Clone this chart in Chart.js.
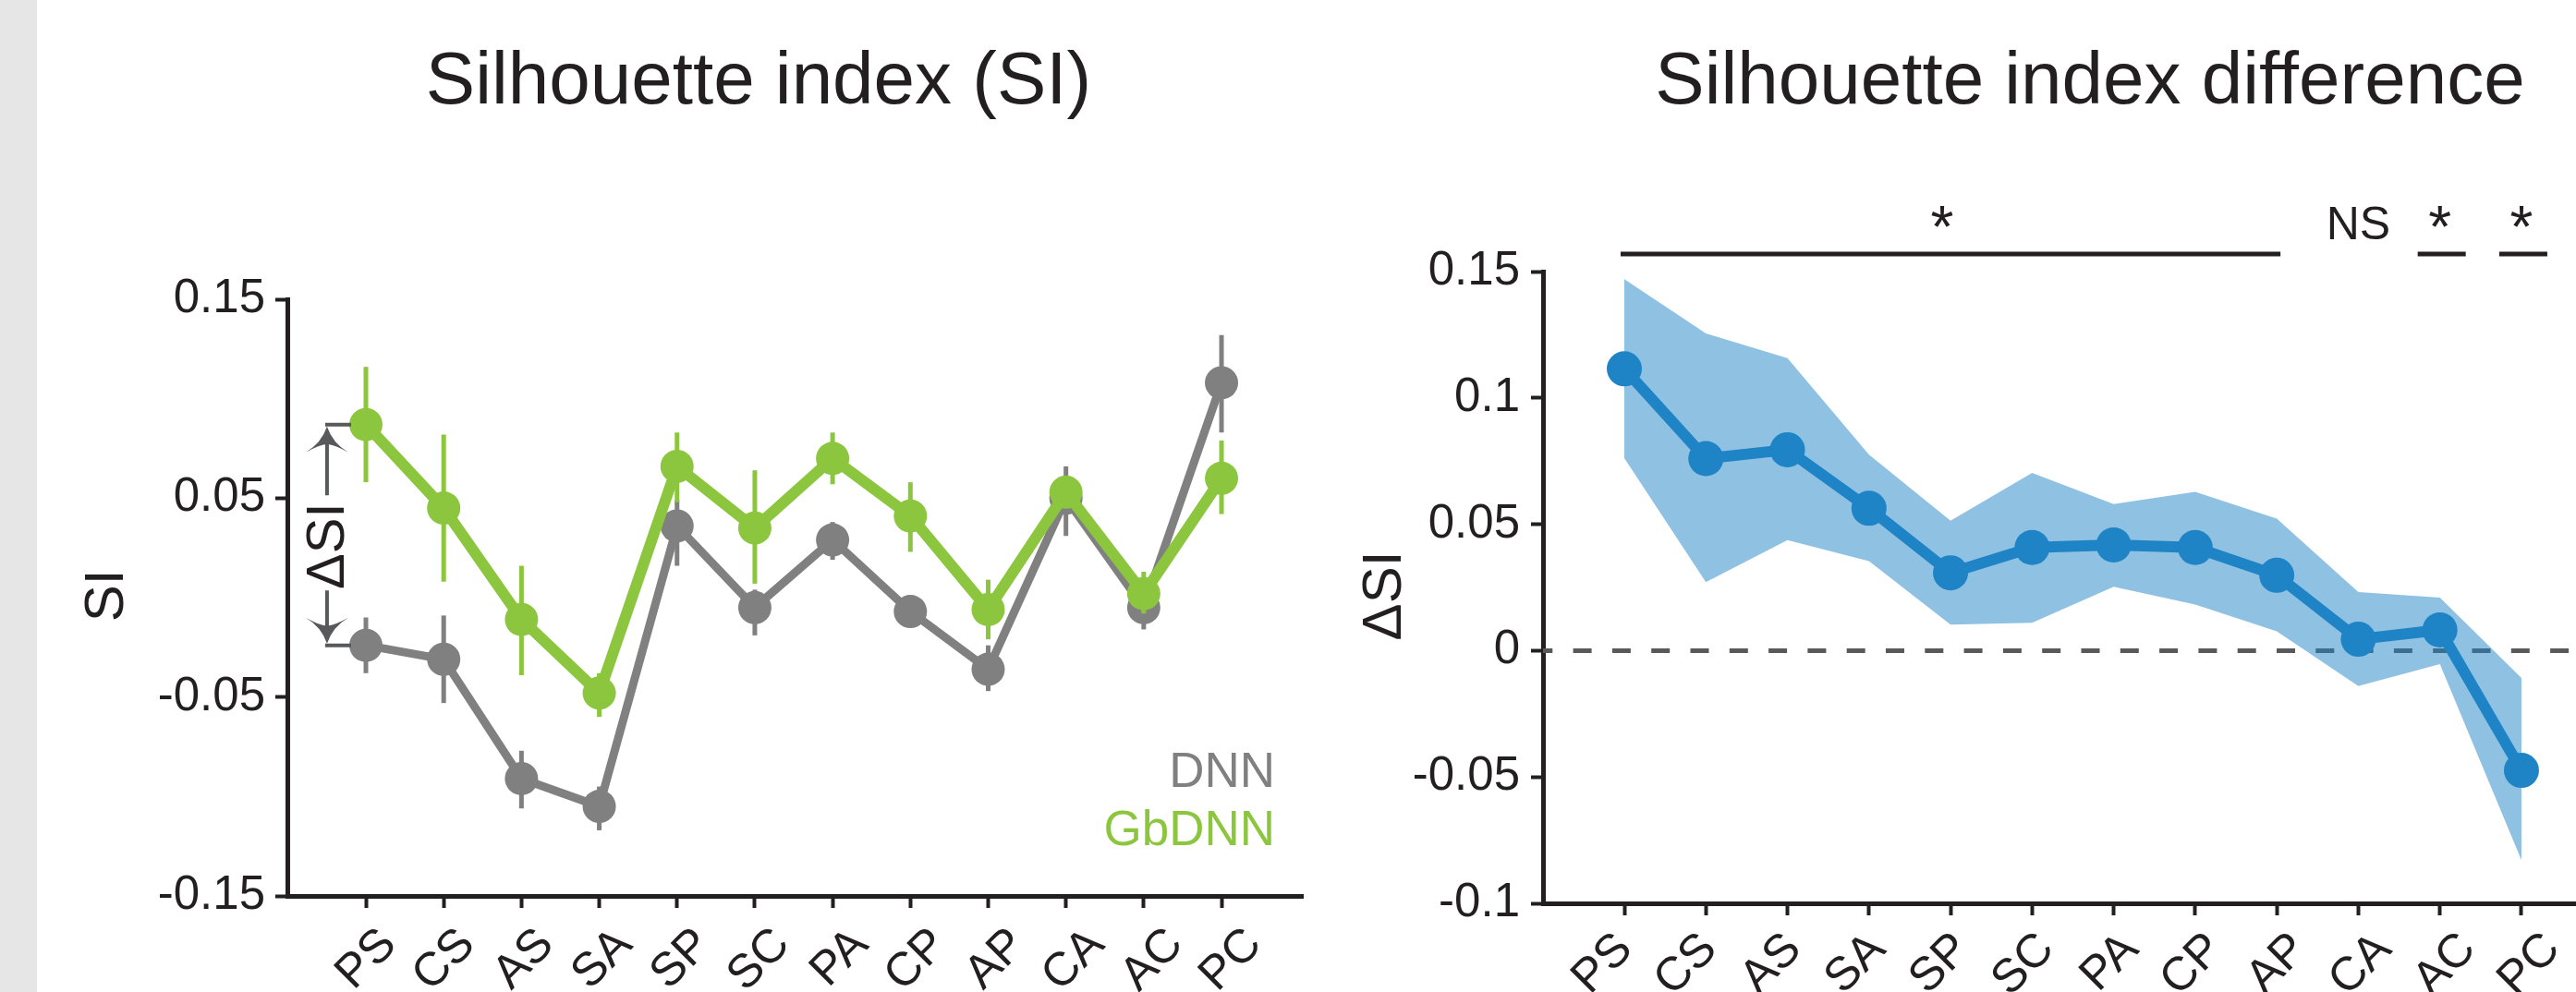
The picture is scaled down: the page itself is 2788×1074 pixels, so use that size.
<!DOCTYPE html>
<html><head><meta charset="utf-8">
<script src="https://cdn.jsdelivr.net/npm/chart.js@4.4.0/dist/chart.umd.min.js"></script>
<style>
html,body{margin:0;padding:0;background:#fff;width:2788px;height:1074px;overflow:hidden;}
#strip{position:absolute;left:0;top:0;width:40px;height:1074px;background:#e6e6e6;}
#c1{position:absolute;left:0;top:0;}
#c2{position:absolute;left:1420px;top:0;}
</style></head><body>
<div id="strip"></div>
<canvas id="c1" width="1420" height="1074"></canvas>
<canvas id="c2" width="1368" height="1074"></canvas>
<script>
// ---------- data ----------
const categories = ['PS','CS','AS','SA','SP','SC','PA','CP','AP','CA','AC','PC'];

const gbdnnSI   = [0.087, 0.045, -0.011, -0.048, 0.066, 0.035, 0.070, 0.041, -0.006, 0.053, 0.002, 0.060];
const gbdnnLow  = [0.058, 0.008, -0.039, -0.060, 0.048, 0.007, 0.057, 0.023, -0.021, 0.046, -0.008, 0.042];
const gbdnnHigh = [0.116, 0.082, 0.016, -0.038, 0.083, 0.064, 0.083, 0.058, 0.009, 0.060, 0.013, 0.079];

const dnnSI   = [-0.024, -0.031, -0.091, -0.105, 0.036, -0.005, 0.029, -0.007, -0.036, 0.050, -0.005, 0.108];
const dnnLow  = [-0.038, -0.053, -0.106, -0.117, 0.016, -0.019, 0.019, -0.012, -0.047, 0.031, -0.016, 0.083];
const dnnHigh = [-0.010, -0.009, -0.077, -0.095, 0.049, 0.004, 0.038, -0.002, -0.024, 0.066, 0.004, 0.132];

const deltaSI   = [0.1115, 0.076, 0.0795, 0.0563, 0.0308, 0.0408, 0.0418, 0.0408, 0.0298, 0.0045, 0.0082, -0.0474];
const deltaHigh = [0.147, 0.1255, 0.1157, 0.0775, 0.0514, 0.0703, 0.058, 0.0628, 0.0522, 0.0232, 0.021, -0.0108];
const deltaLow  = [0.0762, 0.0271, 0.0437, 0.0354, 0.0103, 0.011, 0.0253, 0.0182, 0.0076, -0.014, -0.0053, -0.0829];

const leftYTicks = [-0.15, -0.05, 0.05, 0.15];
const leftYTickLabels = ['-0.15', '-0.05', '0.05', '0.15'];
const rightYTicks = [-0.1, -0.05, 0, 0.05, 0.1, 0.15];
const rightYTickLabels = ['-0.1', '-0.05', '0', '0.05', '0.1', '0.15'];

const leftTitle = 'Silhouette index (SI)';
const rightTitle = 'Silhouette index difference';
const leftYTitle = 'SI';
const rightYTitle = '\u0394SI';
const legendLabels = ['DNN', 'GbDNN'];
// significance groups: category index range and label
const sigFrom  = [0, 9, 10, 11];
const sigTo    = [8, 9, 10, 11];
const sigLabel = ['*', 'NS', '*', '*'];
const sigLine  = [true, false, true, true];

// ---------- styles ----------
const FONT = "'Liberation Sans', Arial, Helvetica, sans-serif";
const INK = '#231F20';
const GREEN = '#8CC63F';
const GREY = '#808080';
const BLUE = '#1F84C6';
const BAND = 'rgba(31,132,198,0.5)';
const ARROW = '#58595B';

function pts(arr){ return arr.map((v,i)=>({x:i, y:v})); }

const errorBarPlugin = {
  id: 'errbars',
  beforeDatasetDraw(chart, args){
    const ds = chart.data.datasets[args.index];
    if (!ds.errLow) return;
    const xs = chart.scales.x, ys = chart.scales.y, ctx = chart.ctx;
    ctx.save();
    ctx.strokeStyle = ds.borderColor; ctx.lineWidth = 5; ctx.lineCap = 'butt';
    ds.errLow.forEach((lo, i) => {
      const x = xs.getPixelForValue(i);
      ctx.beginPath();
      ctx.moveTo(x, ys.getPixelForValue(lo));
      ctx.lineTo(x, ys.getPixelForValue(ds.errHigh[i]));
      ctx.stroke();
    });
    ctx.restore();
  }
};

function arrowHead(ctx, x, t, s){
  ctx.beginPath();
  ctx.moveTo(x, t);
  ctx.quadraticCurveTo(x-6, t+s*18, x-23, t+s*28);
  ctx.quadraticCurveTo(x-9, t+s*20, x, t+s*19);
  ctx.quadraticCurveTo(x+9, t+s*20, x+23, t+s*28);
  ctx.quadraticCurveTo(x+6, t+s*18, x, t);
  ctx.closePath();
  ctx.fill();
}

const leftAnnot = {
  id: 'leftAnnot',
  afterDraw(chart){
    const ctx = chart.ctx, xs = chart.scales.x, ys = chart.scales.y, ca = chart.chartArea;
    ctx.save();
    ctx.fillStyle = INK; ctx.textAlign = 'center'; ctx.textBaseline = 'alphabetic';
    ctx.font = '80px ' + FONT;
    ctx.fillText(leftTitle, 821, 112);
    ctx.save();
    ctx.translate(133, 645); ctx.rotate(-Math.PI/2);
    ctx.font = '60px ' + FONT; ctx.fillText(leftYTitle, 0, 0);
    ctx.restore();
    // legend
    ctx.textAlign = 'right'; ctx.font = '53px ' + FONT;
    ctx.fillStyle = GREY; ctx.fillText(legendLabels[0], ca.right - 30, 852);
    ctx.fillStyle = GREEN; ctx.fillText(legendLabels[1], ca.right - 30, 915);
    // delta SI bracket between the two PS points
    const xl = xs.getPixelForValue(-0.5);
    const xp = xs.getPixelForValue(0) - 16;
    const yt = ys.getPixelForValue(gbdnnSI[0]);
    const yb = ys.getPixelForValue(dnnSI[0]);
    const ym = (yt + yb)/2 + 12;
    ctx.strokeStyle = ARROW; ctx.fillStyle = ARROW; ctx.lineWidth = 4; ctx.lineCap = 'butt';
    ctx.beginPath();
    ctx.moveTo(xp, yt); ctx.lineTo(xl - 2, yt);
    ctx.moveTo(xp, yb); ctx.lineTo(xl - 2, yb);
    ctx.moveTo(xl, yt + 18); ctx.lineTo(xl, ym - 55);
    ctx.moveTo(xl, ym + 48); ctx.lineTo(xl, yb - 18);
    ctx.stroke();
    arrowHead(ctx, xl, yt + 2, 1);
    arrowHead(ctx, xl, yb - 2, -1);
    ctx.save();
    ctx.translate(xl + 18, ym); ctx.rotate(-Math.PI/2);
    ctx.fillStyle = INK; ctx.textAlign = 'center'; ctx.font = '58px ' + FONT;
    ctx.fillText(rightYTitle, 0, 0);
    ctx.restore();
    ctx.restore();
  }
};

const rightAnnot = {
  id: 'rightAnnot',
  beforeDatasetsDraw(chart){
    const ctx = chart.ctx, ys = chart.scales.y, ca = chart.chartArea;
    const y0 = ys.getPixelForValue(0);
    ctx.save();
    ctx.strokeStyle = ARROW; ctx.lineWidth = 5; ctx.setLineDash([20, 22.3]); ctx.lineDashOffset = 9.7;
    ctx.beginPath(); ctx.moveTo(ca.left, y0); ctx.lineTo(ca.right, y0); ctx.stroke();
    ctx.restore();
  },
  afterDraw(chart){
    const ctx = chart.ctx, xs = chart.scales.x, ca = chart.chartArea;
    ctx.save();
    ctx.fillStyle = INK; ctx.textAlign = 'center'; ctx.textBaseline = 'alphabetic';
    ctx.font = '80px ' + FONT;
    ctx.fillText(rightTitle, 842, 112);
    ctx.save();
    ctx.translate(96, 645); ctx.rotate(-Math.PI/2);
    ctx.font = '60px ' + FONT; ctx.fillText(rightYTitle, 0, 0);
    ctx.restore();
    // significance markers
    const lineY = ca.top - 19;
    ctx.strokeStyle = INK; ctx.lineWidth = 5;
    for (let k = 0; k < sigFrom.length; k++){
      const a = xs.getPixelForValue(sigFrom[k]), b = xs.getPixelForValue(sigTo[k]);
      let cx = (a + b)/2;
      if (sigLine[k]){
        ctx.beginPath();
        if (sigFrom[k] === sigTo[k]) { ctx.moveTo(a - 24, lineY); ctx.lineTo(a + 28, lineY); }
        else { ctx.moveTo(a - 4, lineY); ctx.lineTo(b + 4, lineY); cx -= 9; }
        ctx.stroke();
      }
      if (sigLabel[k] === '*') {
        ctx.font = '64px ' + FONT;
        const m = ctx.measureText('*');
        ctx.fillText('*', cx, lineY - 52 + m.actualBoundingBoxAscent);
      } else {
        ctx.font = '50px ' + FONT;
        ctx.fillText(sigLabel[k], cx, lineY - 16);
      }
    }
    ctx.restore();
  }
};

function axisCommon(){
  return {
    border: {display: true, color: INK, width: 5},
    grid: {display: true, drawOnChartArea: false, drawTicks: true, tickLength: 13, tickWidth: 4, tickColor: INK}
  };
}
// primary x axis: border + tick marks at the categories
function tickAxis(min, max){
  return Object.assign(axisCommon(), {
    type: 'linear', min: min, max: max, weight: 0,
    afterBuildTicks: s => { s.ticks = categories.map((c, i) => ({value: i})); },
    afterFit: s => { s.height = 0; s.paddingLeft = 0; s.paddingRight = 0; },
    ticks: {display: false, autoSkip: false}
  });
}
// label axis: category names, spaced slightly wider than the ticks as in the figure
function labelAxis(min, max, h, pad, stretch, shift){
  return {
    type: 'linear', position: 'bottom', min: min, max: max, weight: 1,
    border: {display: false}, grid: {display: false},
    afterBuildTicks: s => { s.ticks = categories.map((c, i) => ({value: shift + i * stretch})); },
    afterFit: s => { s.height = h; s.paddingLeft = 0; s.paddingRight = 0; },
    ticks: {autoSkip: false, minRotation: 45, maxRotation: 45, padding: pad, labelOffset: 0, color: INK,
            font: {size: 51, family: FONT}, callback: (v, i) => categories[i]}
  };
}

Chart.defaults.font.family = FONT;

// ---------- left chart ----------
new Chart(document.getElementById('c1'), {
  type: 'line',
  data: {
    datasets: [
      {label: 'GbDNN', data: pts(gbdnnSI), borderColor: GREEN, backgroundColor: GREEN, borderWidth: 12,
       pointRadius: 18, pointBorderWidth: 0, pointBackgroundColor: GREEN, tension: 0, fill: false,
       errLow: gbdnnLow, errHigh: gbdnnHigh},
      {label: 'DNN', data: pts(dnnSI), borderColor: GREY, backgroundColor: GREY, borderWidth: 9,
       pointRadius: 18, pointBorderWidth: 0, pointBackgroundColor: GREY, tension: 0, fill: false,
       errLow: dnnLow, errHigh: dnnHigh}
    ]
  },
  options: {
    responsive: false, animation: false, devicePixelRatio: 1, events: [],
    layout: {padding: {left: 0, right: 10, top: 324, bottom: 0}, autoPadding: false},
    plugins: {legend: {display: false}, tooltip: {enabled: false}, title: {display: false}},
    scales: {
      x: tickAxis(-1.01, 12.045),
      xl: labelAxis(-1.01, 12.045, 104, 15, 1.0115, 0.297),
      y: Object.assign(axisCommon(), {
        type: 'linear', min: -0.15, max: 0.15,
        afterBuildTicks: s => { s.ticks = leftYTicks.map(v => ({value: v})); },
        afterFit: s => { s.width = 311; },
        ticks: {padding: 11, color: INK, font: {size: 51, family: FONT}, callback: (v, i) => leftYTickLabels[i]}
      })
    }
  },
  plugins: [errorBarPlugin, leftAnnot]
});

// ---------- right chart ----------
new Chart(document.getElementById('c2'), {
  type: 'line',
  data: {
    datasets: [
      {label: '\u0394SI', data: pts(deltaSI), borderColor: BLUE, backgroundColor: BLUE, borderWidth: 12,
       pointRadius: 19, pointBorderWidth: 0, pointBackgroundColor: BLUE, tension: 0, fill: false},
      {label: 'upper', data: pts(deltaHigh), borderColor: 'rgba(0,0,0,0)', borderWidth: 1,
       pointRadius: 0, tension: 0, fill: false},
      {label: 'lower', data: pts(deltaLow), borderColor: 'rgba(0,0,0,0)', borderWidth: 1,
       pointRadius: 0, tension: 0, fill: '-1', backgroundColor: BAND}
    ]
  },
  options: {
    responsive: false, animation: false, devicePixelRatio: 1, events: [],
    layout: {padding: {left: 0, right: 0, top: 294, bottom: 0}, autoPadding: false},
    plugins: {legend: {display: false}, tooltip: {enabled: false}, title: {display: false},
              filler: {propagate: false}},
    scales: {
      x: tickAxis(-0.997, 11.669),
      xl: labelAxis(-0.997, 11.669, 1074 - 978, 12, 1.034, 0.011),
      y: Object.assign(axisCommon(), {
        type: 'linear', min: -0.1, max: 0.15,
        afterBuildTicks: s => { s.ticks = rightYTicks.map(v => ({value: v})); },
        afterFit: s => { s.width = 250; },
        ticks: {padding: 12, color: INK, font: {size: 51, family: FONT}, callback: (v, i) => rightYTickLabels[i]}
      })
    }
  },
  plugins: [rightAnnot]
});
</script>
</body></html>
